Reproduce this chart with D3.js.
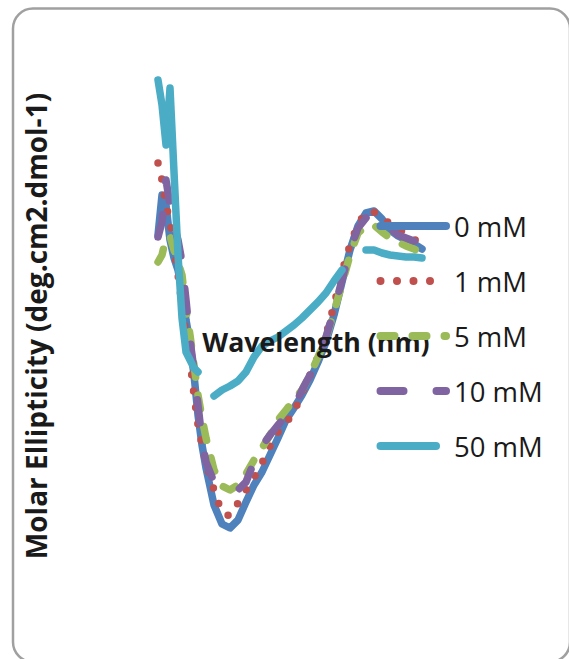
<!DOCTYPE html>
<html><head><meta charset="utf-8">
<script src="https://cdn.jsdelivr.net/npm/d3@7"></script>
<style>html,body{margin:0;padding:0;background:#fff;overflow:hidden}</style>
</head><body>
<svg id="chart" width="569" height="659"></svg>
<script>
// Wavelength (nm)
const wavelengths = [195,196,197,198,199,200,201,202,203,204,205,206,
  207,209,211,213,215,217,219,221,223,225,227,229,231,233,235,237,239,241,243,245,247,249,251,253,255,257,259,261];
const seriesNames = ["0 mM", "1 mM", "5 mM", "10 mM", "50 mM"];
// Molar ellipticity values (arbitrary scale)
const mM0 = [4.5,8.5,7.5,4.0,2.2,1.0,-1.0,-4.0,-6.3,-9.5,-13.5,-16.5,
  -18.8,-22.5,-24.4,-24.8,-24.0,-22.2,-20.5,-19.2,-17.5,-15.8,-14.0,-12.8,-11.5,-10.0,-8.2,-6.2,-3.5,-0.2,3.0,5.4,6.7,6.9,6.1,5.0,4.4,4.0,3.6,3.1];
const mM1 = [11.7,10.0,7.5,5.8,3.2,0.5,-2.5,-5.5,-8.0,-11.5,-14.5,-16.5,
  -18.3,-21.0,-23.3,-23.6,-22.3,-21.0,-19.8,-18.3,-16.6,-15.2,-14.3,-13.2,-11.3,-9.5,-7.7,-5.5,-2.5,0.8,3.5,5.6,6.8,6.8,6.3,5.6,5.1,4.7,4.1,3.5];
const mM5 = [1.8,2.5,4.2,4.4,3.0,1.8,0.5,-3.0,-5.5,-8.5,-11.5,-13.8,
  -15.8,-19.0,-20.6,-21.0,-20.5,-19.4,-18.0,-16.8,-15.5,-14.0,-13.0,-12.0,-11.0,-9.5,-7.7,-5.8,-3.2,-0.4,2.5,4.7,5.4,5.5,4.8,4.2,3.8,3.4,3.1,2.7];
const mM10 = [4.3,5.8,10.0,7.5,5.5,4.0,1.8,-2.0,-6.0,-9.0,-12.5,-16.0,
  -18.2,-20.2,-20.7,-20.8,-21.0,-20.2,-18.2,-16.6,-15.5,-14.5,-13.6,-12.8,-11.0,-9.5,-7.7,-5.7,-3.0,0.0,3.0,5.2,6.2,6.4,5.8,5.2,4.5,4.2,3.9,3.6];
const mM50 = [20.0,17.5,13.5,19.2,10.8,2.5,-3.8,-7.2,-8.0,-8.8,-9.2,null,
  null,-11.6,-11.0,-10.6,-10.1,-9.2,-7.7,-6.6,-6.1,-5.7,-5.1,-4.5,-3.8,-3.0,-2.2,-1.3,-0.1,1.0,null,null,3.0,3.0,2.7,2.5,2.4,2.3,2.3,2.2];
const seriesValues = [mM0, mM1, mM5, mM10, mM50];
const xTitle = "Wavelength (nm)";
const yTitle = "Molar Ellipticity (deg.cm2.dmol-1)";

const colors = ["#4F81BD", "#C0504D", "#9BBB59", "#8064A2", "#4BACC6"];
const dashes = [null, "0,16.5", "14,18", "23,33", null];

const svg = d3.select("#chart");
const font = "'Open Sans', sans-serif";

// chart frame
svg.append("rect").attr("x", 13).attr("y", 8.5).attr("width", 557).attr("height", 653.5)
  .attr("rx", 20).attr("ry", 20).attr("fill", "#fff").attr("stroke", "#a0a0a0").attr("stroke-width", 2.5);

const x = d3.scaleLinear().domain([195, 261]).range([158, 422]);
const y = d3.scaleLinear().domain([-25, 20]).range([530, 80]);

const line = d3.line()
  .defined(d => d[1] != null)
  .x(d => x(d[0])).y(d => y(d[1]));

seriesValues.forEach((vals, i) => {
  const pts = wavelengths.map((w, j) => [w, vals[j]]);
  svg.append("path").attr("d", line(pts))
    .attr("fill", "none").attr("stroke", colors[i]).attr("stroke-width", 7.5)
    .attr("stroke-linecap", "round").attr("stroke-linejoin", "round")
    .attr("stroke-dasharray", dashes[i]);
});

// axis titles
svg.append("text").attr("x", 316).attr("y", 352).attr("text-anchor", "middle")
  .attr("font-family", font).attr("font-weight", "bold").attr("font-size", 26.7)
  .attr("fill", "#1a1a1a").text(xTitle);
svg.append("text").attr("transform", "translate(47,326) rotate(-90)").attr("text-anchor", "middle")
  .attr("font-family", font).attr("font-weight", "bold").attr("font-size", 28)
  .attr("fill", "#1a1a1a").text(yTitle);

// legend
const ly = d3.scalePoint().domain(seriesNames).range([226, 446]);
const legendEnd = [446, 446, 446, 446, 436];
seriesNames.forEach((name, i) => {
  const g = svg.append("g");
  g.append("line").attr("x1", 380.5).attr("x2", legendEnd[i])
    .attr("y1", ly(name)).attr("y2", ly(name))
    .attr("stroke", colors[i]).attr("stroke-width", 8)
    .attr("stroke-linecap", "round").attr("stroke-dasharray", dashes[i]);
  g.append("text").attr("x", 454).attr("y", ly(name) + 11)
    .attr("font-family", font).attr("font-size", 27.5).attr("fill", "#1a1a1a").text(name);
});
</script>
</body></html>
